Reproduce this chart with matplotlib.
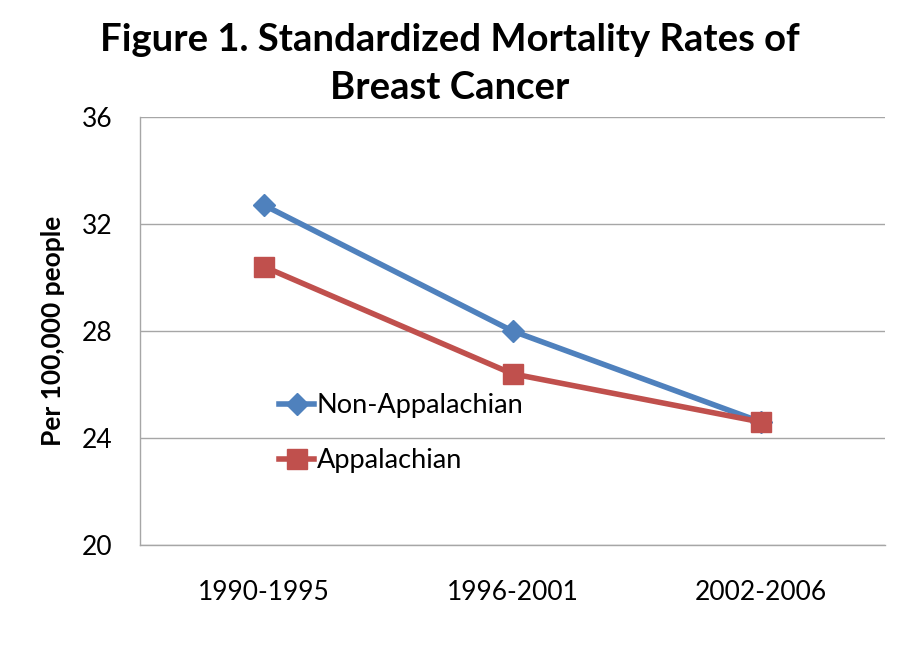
import matplotlib.pyplot as plt

# Standardized breast cancer mortality rates, per 100,000 people
periods = ['1990-1995', '1996-2001', '2002-2006']
non_appalachian = [32.7, 28.0, 24.6]
appalachian = [30.4, 26.4, 24.6]
y_ticks = [20, 24, 28, 32, 36]

plt.rcParams['font.family'] = ['Lato', 'DejaVu Sans']

fig = plt.figure(figsize=(9, 6.6), dpi=100)
ax = fig.add_axes([0.1556, 0.1742, 0.8277, 0.6485])

x = range(len(periods))
ax.plot(x, non_appalachian, color='#4F81BD', lw=4, marker='D', ms=11,
        label='Non-Appalachian', zorder=3)
ax.plot(x, appalachian, color='#C0504D', lw=4, marker='s', ms=14,
        label='Appalachian', zorder=3)

ax.set_xlim(-0.5, 2.5)
ax.set_ylim(20, 36)
ax.set_yticks(y_ticks)
ax.set_xticks(list(x))
ax.set_xticklabels(periods)
ax.tick_params(axis='both', length=0, labelsize=19, colors='black')
ax.tick_params(axis='y', pad=20)
ax.tick_params(axis='x', pad=25)

ax.grid(axis='y', color='#a6a6a6', lw=1)
ax.set_axisbelow(True)
for s in ['top', 'right']:
    ax.spines[s].set_visible(False)
for s in ['left', 'bottom']:
    ax.spines[s].set_color('#a6a6a6')
    ax.spines[s].set_linewidth(1)

ax.set_ylabel('Per 100,000 people', fontsize=19, fontweight='bold', labelpad=12)

fig.suptitle('Figure 1. Standardized Mortality Rates of\nBreast Cancer',
             fontsize=27.5, fontweight='bold', y=0.965, linespacing=1.5)

ax.legend(loc='upper left', bbox_to_anchor=(0.172, 0.38), frameon=False,
          fontsize=19.5, handlelength=1.3, handletextpad=0.1, labelspacing=1.1,
          borderaxespad=0)

fig.savefig('out.png', dpi=100)
